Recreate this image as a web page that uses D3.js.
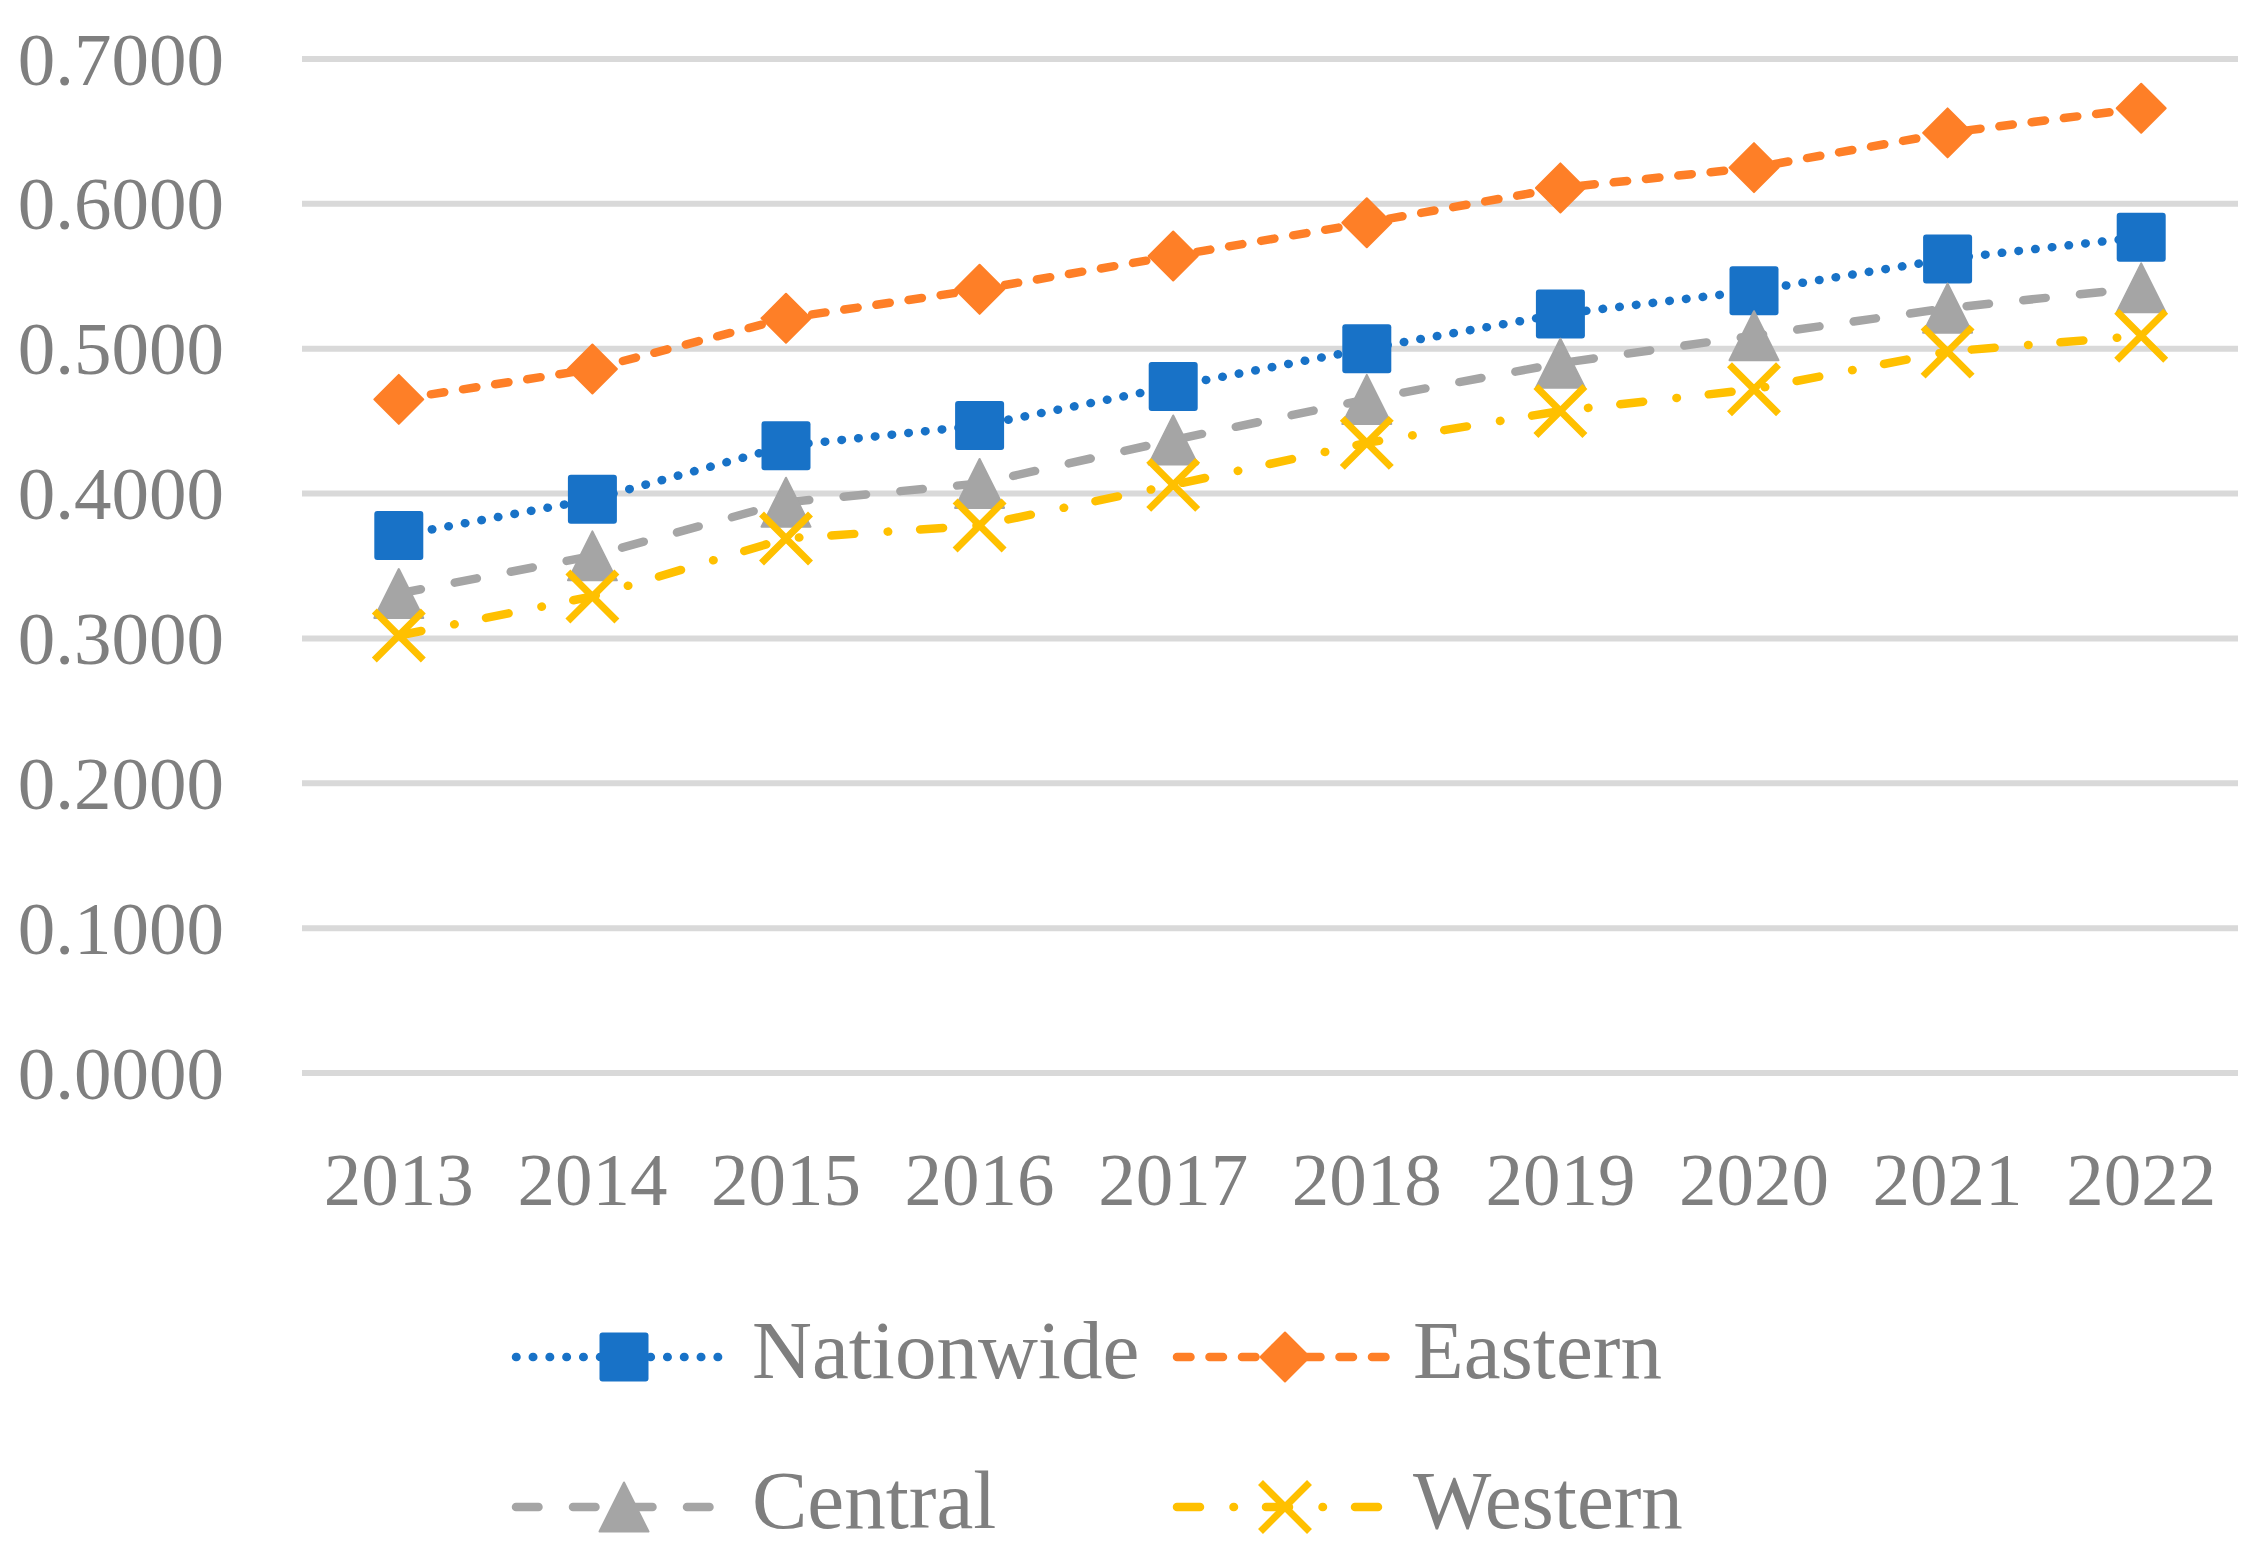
<!DOCTYPE html>
<html>
<head>
<meta charset="utf-8">
<style>
    body { margin: 0; background: #fff; }
    svg { display: block; }
    text { font-family: 'Liberation Serif', 'Times New Roman', serif; fill: #7f7f7f; }
</style>
</head>
<body>
<svg width="2255" height="1554"></svg>
<script src="https://d3js.org/d3.v7.min.js"></script>
<script>
    // data
    const years = ['2013', '2014', '2015', '2016', '2017', '2018', '2019', '2020', '2021', '2022'];
    const nationwide = [0.371, 0.396, 0.433, 0.447, 0.474, 0.500, 0.524, 0.540, 0.562, 0.577];
    const eastern = [0.465, 0.486, 0.521, 0.541, 0.564, 0.587, 0.611, 0.625, 0.649, 0.666];
    const central = [0.331, 0.357, 0.394, 0.407, 0.437, 0.465, 0.490, 0.509, 0.528, 0.542];
    const western = [0.302, 0.329, 0.369, 0.378, 0.406, 0.435, 0.457, 0.472, 0.498, 0.509];
    const yTicks = [0, 0.1, 0.2, 0.3, 0.4, 0.5, 0.6, 0.7];
    const seriesNames = ['Nationwide', 'Eastern', 'Central', 'Western'];

    const series = [
        { name: seriesNames[0], values: nationwide, color: '#1872C7', dash: '0.5 16.3', marker: 'square' },
        { name: seriesNames[1], values: eastern, color: '#FE7F27', dash: '13.5 19', marker: 'diamond' },
        { name: seriesNames[2], values: central, color: '#A5A5A5', dash: '22.5 34.5', marker: 'triangle' },
        { name: seriesNames[3], values: western, color: '#FFC000', dash: '23 33.5 0.5 32', marker: 'x' }
    ];

    let svg = d3.select('svg');
    let plotLeft = 302, plotRight = 2238, plotTop = 59, plotBottom = 1073;

    let x = d3.scaleBand().domain(years).range([plotLeft, plotRight]);
    let y = d3.scaleLinear().domain([0, 0.7]).range([plotBottom, plotTop]);

    // gridlines
    svg.append('g')
        .selectAll('line')
        .data(yTicks)
        .join('line')
        .attr('x1', plotLeft).attr('x2', plotRight)
        .attr('y1', d => y(d)).attr('y2', d => y(d))
        .style('stroke', '#d9d9d9')
        .style('stroke-width', 6);

    // y labels
    svg.append('g')
        .selectAll('text')
        .data(yTicks)
        .join('text')
        .attr('x', 224)
        .attr('y', d => y(d))
        .attr('dy', '0.34em')
        .attr('text-anchor', 'end')
        .style('font-size', '75px')
        .text(d => d3.format('.4f')(d));

    // x labels
    svg.append('g')
        .selectAll('text')
        .data(years)
        .join('text')
        .attr('x', d => x(d) + x.bandwidth() / 2)
        .attr('y', 1205)
        .attr('text-anchor', 'middle')
        .style('font-size', '75px')
        .text(d => d);

    function drawMarker(g, type, color, cx, cy) {
        let h = 24.5;
        if (type == 'square') {
            g.append('rect')
                .attr('x', cx - h).attr('y', cy - h)
                .attr('width', 2 * h).attr('height', 2 * h)
                .attr('rx', 3)
                .style('fill', color);
        } else if (type == 'diamond') {
            g.append('path')
                .attr('d', `M${cx},${cy - h}L${cx + h},${cy}L${cx},${cy + h}L${cx - h},${cy}Z`)
                .style('fill', color)
                .style('stroke', color)
                .style('stroke-width', 2)
                .style('stroke-linejoin', 'round');
        } else if (type == 'triangle') {
            g.append('path')
                .attr('d', `M${cx},${cy - h}L${cx + h},${cy + h}L${cx - h},${cy + h}Z`)
                .style('fill', color)
                .style('stroke', color)
                .style('stroke-width', 2)
                .style('stroke-linejoin', 'round');
        } else {
            g.append('path')
                .attr('d', `M${cx - h},${cy - h}L${cx + h},${cy + h}M${cx + h},${cy - h}L${cx - h},${cy + h}`)
                .style('fill', 'none')
                .style('stroke', color)
                .style('stroke-width', 7);
        }
    }

    let line = d3.line()
        .x((d, i) => x(years[i]) + x.bandwidth() / 2)
        .y(d => y(d));

    series.forEach(s => {
        let g = svg.append('g').attr('class', 'series');
        g.append('path')
            .attr('d', line(s.values))
            .style('fill', 'none')
            .style('stroke', s.color)
            .style('stroke-width', 8.5)
            .style('stroke-linecap', 'round')
            .style('stroke-dasharray', s.dash);
        s.values.forEach((v, i) => {
            drawMarker(g, s.marker, s.color, x(years[i]) + x.bandwidth() / 2, y(v));
        });
    });

    // legend
    let legendPos = [
        { x: 516, y: 1357 },
        { x: 1177, y: 1357 },
        { x: 516, y: 1507 },
        { x: 1177, y: 1507 }
    ];
    series.forEach((s, i) => {
        let p = legendPos[i];
        let g = svg.append('g').attr('class', 'legend');
        g.append('line')
            .attr('x1', p.x).attr('x2', p.x + 215)
            .attr('y1', p.y).attr('y2', p.y)
            .style('stroke', s.color)
            .style('stroke-width', 8.5)
            .style('stroke-linecap', 'round')
            .style('stroke-dasharray', s.dash);
        drawMarker(g, s.marker, s.color, p.x + 108, p.y);
        g.append('text')
            .attr('x', p.x + 236)
            .attr('y', p.y + 21)
            .style('font-size', '83px')
            .text(s.name);
    });
</script>
</body>
</html>
